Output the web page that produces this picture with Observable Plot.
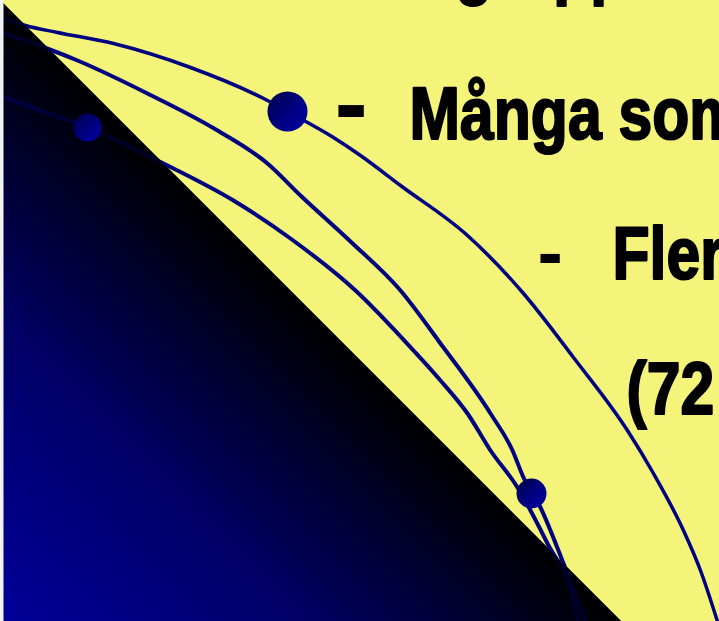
<!DOCTYPE html>
<html>
<head>
<meta charset="utf-8">
<script src="https://cdn.jsdelivr.net/npm/d3@7"></script>
<script src="https://cdn.jsdelivr.net/npm/@observablehq/plot@0.6"></script>
<style>
  html, body { margin: 0; padding: 0; background: #f4f47b; }
  svg { display: block; }
</style>
</head>
<body>
<div id="chart"></div>
<script>
// Curves (picture units: x to the right, y downward)
const curveA_x = [4, 25, 57, 113, 190, 267, 287, 333, 360, 400, 467, 523, 573, 627, 653, 683, 700, 717];
const curveA_y = [18, 25, 32, 43, 67, 100, 111, 137, 155, 185, 235, 293, 357, 430, 473, 530, 570, 621];
const curveB_x = [4, 33, 77, 147, 217, 267, 300, 350, 400, 440, 490, 512, 523, 540, 563, 585];
const curveB_y = [33, 43, 60, 93, 130, 163, 195, 241, 290, 343, 413, 450, 477, 507, 563, 621];
const curveC_x = [4, 40, 87, 163, 233, 290, 355, 413, 440, 467, 490, 517, 530, 547, 570, 578];
const curveC_y = [97, 110, 127, 163, 200, 238, 290, 350, 380, 413, 450, 487, 510, 543, 590, 621];
const curveWidths = [3.5, 4, 4];

// Dark triangle corners
const triX = [0, 621, 0];
const triY = [0, 621, 621];

// Balls on the curves
const ballX = [287, 87, 531];
const ballY = [111, 127, 493];
const ballR = [20, 14, 15];

// Slide text fragments
const labelText = ["grupp", "-", "Många som", "-", "Fler", "(72"];
const labelX = [455, 334, 409, 537, 612, 626];
const labelY = [-10, 136, 138, 277, 278, 413];
const labelSize = [74, 100, 74, 76, 74, 74];
const labelNarrow = [true, false, true, false, true, true];

const curves = [];
[[curveA_x, curveA_y, "A"], [curveB_x, curveB_y, "B"], [curveC_x, curveC_y, "C"]].forEach(([xs, ys, s], i) => {
  xs.forEach((x, j) => curves.push({series: s, x, y: ys[j], w: curveWidths[i]}));
});
const tri = triX.map((x, i) => ({x, y: triY[i]}));
const balls = ballX.map((x, i) => ({x, y: ballY[i], r: ballR[i]}));
const labels = labelText.map((t, i) => ({t, x: labelX[i], y: labelY[i], s: labelSize[i], n: labelNarrow[i]}));

const lineColor = "#000080";
const svg = Plot.plot({
  width: 719, height: 621,
  margin: 0,
  style: {background: "#f4f47b", overflow: "hidden"},
  x: {domain: [0, 719], axis: null},
  y: {domain: [0, 621], reverse: true, axis: null},
  marks: [
    Plot.line(tri, {x: "x", y: "y", fill: "#000000", stroke: "none"}),
    ...["A", "B", "C"].map((s, i) => Plot.line(curves.filter(d => d.series === s), {
      x: "x", y: "y", stroke: lineColor, strokeWidth: curveWidths[i], curve: "monotone-x", strokeLinejoin: "round"
    })),
    Plot.line(tri, {x: "x", y: "y", fill: "url(#triGrad)", fillOpacity: 0.72, stroke: "none"}),
    Plot.rect([0], {x1: 0, x2: 3.5, y1: 0, y2: 621, fill: "#f2f2f2"}),
    Plot.dot(balls, {x: "x", y: "y", r: "r", fill: "url(#ballGrad)", stroke: "none"}),
    Plot.text(labels.filter(d => d.n), {
      x: "x", y: "y", text: "t", textAnchor: "start", lineAnchor: "bottom",
      fontSize: d => d.s, fontWeight: "bold", fill: "#000", stroke: "#000", strokeWidth: 2.2,
      fontFamily: "'Liberation Sans', Arial, sans-serif", className: "narrow"
    }),
    Plot.text(labels.filter(d => !d.n), {
      x: "x", y: "y", text: "t", textAnchor: "start", lineAnchor: "bottom",
      fontSize: d => d.s, fontWeight: "bold", fill: "#000",
      fontFamily: "'Liberation Sans', Arial, sans-serif"
    })
  ],
  r: {type: "identity"}
});
// condense the bold face the way Arial Narrow does (82% width)
svg.querySelectorAll("g.narrow text").forEach(t => {
  const tr = t.getAttribute("transform") || "";
  t.setAttribute("transform", tr + " scale(0.82,1)");
});
svg.insertAdjacentHTML("afterbegin", `
<defs>
  <linearGradient id="triGrad" gradientUnits="userSpaceOnUse" x1="0" y1="621" x2="310" y2="311">
    <stop offset="0" stop-color="#0000d6"/>
    <stop offset="0.5" stop-color="#00008b"/>
    <stop offset="1" stop-color="#000000"/>
  </linearGradient>
  <linearGradient id="ballGrad" x1="0" y1="0" x2="1" y2="1">
    <stop offset="0" stop-color="#000048"/>
    <stop offset="0.6" stop-color="#000088"/>
    <stop offset="1" stop-color="#0000a4"/>
  </linearGradient>
</defs>`);
document.getElementById("chart").appendChild(svg);
</script>
</body>
</html>
